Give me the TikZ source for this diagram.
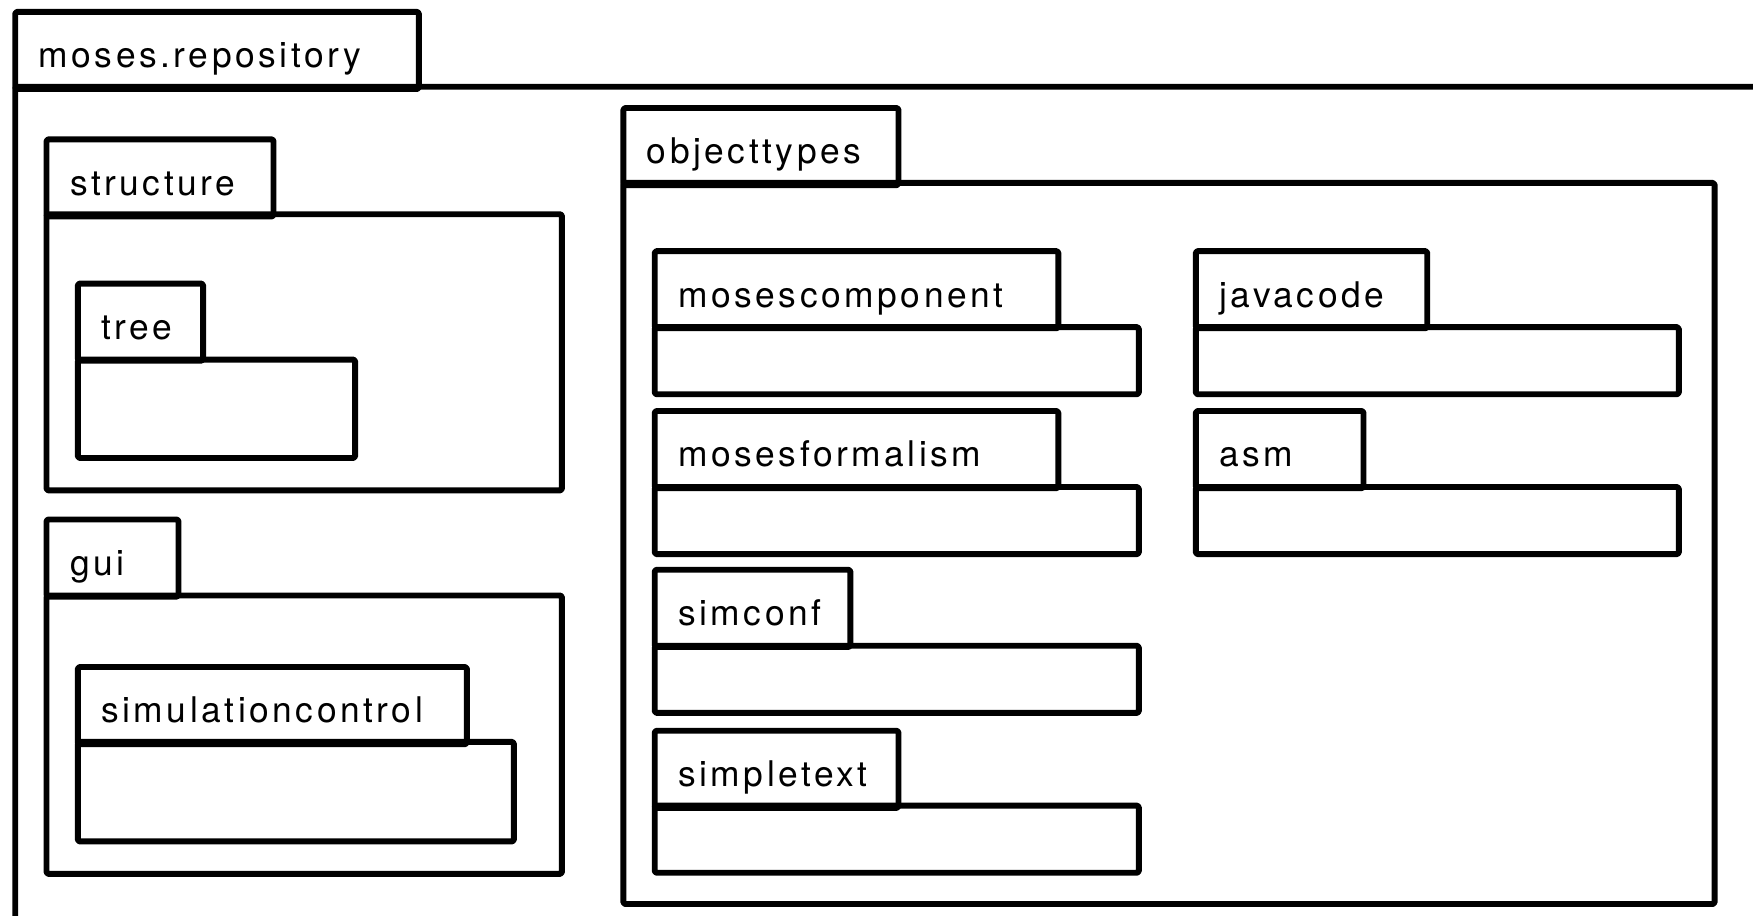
\documentclass[tikz,border=0pt]{standalone}
\usepackage{fontspec}
\usepackage{tikz}
\usetikzlibrary{positioning}
\newfontfamily\pkgfont{TeX Gyre Heros}[LetterSpace=10]

\begin{document}
\begin{tikzpicture}[
  x=0.1mm, y=-0.1mm,
  every node/.style={font=\pkgfont\fontsize{9}{10}\selectfont},
  tab/.style={draw=black, line width=1.5pt, line join=round, rounded corners=0.4pt, anchor=north west,
    minimum height=6.9mm, inner xsep=2.1mm, text width=#1, align=left, text height=3.1mm, text depth=0mm},
  body/.style={draw=black, line width=1.5pt, line join=round, rounded corners=0.4pt, anchor=north west,
    inner sep=0pt}
]
\useasboundingbox (0,0) rectangle (1568,819);
\clip (0,0) rectangle (1568,819);

% outer package
\node[tab=31.9mm] (repo) at (11,8) {moses.repository};
\node[body, minimum width=170mm, minimum height=90mm] (repobody) at (11,75) {};

% left column
\node[tab=16.1mm] (structure) at (39,122) {structure};
\node[body, minimum width=46.1mm, minimum height=24.7mm] (structurebody) at (39,189) {};
\node[tab=7mm] (tree) at (67,251) {tree};
\node[body, minimum width=24.8mm, minimum height=8.8mm] (treebody) at (67,319) {};

\node[tab=7.6mm] (gui) at (39,462) {gui};
\node[body, minimum width=46.1mm, minimum height=24.9mm] (guibody) at (39,530) {};
\node[tab=30.6mm] (simctrl) at (67,594) {simulationcontrol};
\node[body, minimum width=39mm, minimum height=8.9mm] (simctrlbody) at (67,661) {};

% objecttypes
\node[tab=20.4mm] (objtypes) at (555,94) {objecttypes};
\node[body, minimum width=97.6mm, minimum height=64.5mm] (objtypesbody) at (555,161) {};

\node[tab=31.9mm] (moscomp) at (583,222) {mosescomponent};
\node[body, minimum width=43.3mm, minimum height=6mm] (moscompbody) at (583,290) {};
\node[tab=31.9mm] (mosform) at (583,365) {mosesformalism};
\node[body, minimum width=43.3mm, minimum height=6mm] (mosformbody) at (583,433) {};
\node[tab=13.3mm] (simconf) at (583,507) {simconf};
\node[body, minimum width=43.3mm, minimum height=6mm] (simconfbody) at (583,575) {};
\node[tab=17.6mm] (simpletext) at (583,651) {simpletext};
\node[body, minimum width=43.3mm, minimum height=6mm] (simpletextbody) at (583,718) {};

\node[tab=16.5mm] (javacode) at (1067,222) {javacode};
\node[body, minimum width=43.2mm, minimum height=6mm] (javacodebody) at (1067,290) {};
\node[tab=10.8mm] (asm) at (1067,365) {asm};
\node[body, minimum width=43.2mm, minimum height=6mm] (asmbody) at (1067,433) {};
\end{tikzpicture}
\end{document}
